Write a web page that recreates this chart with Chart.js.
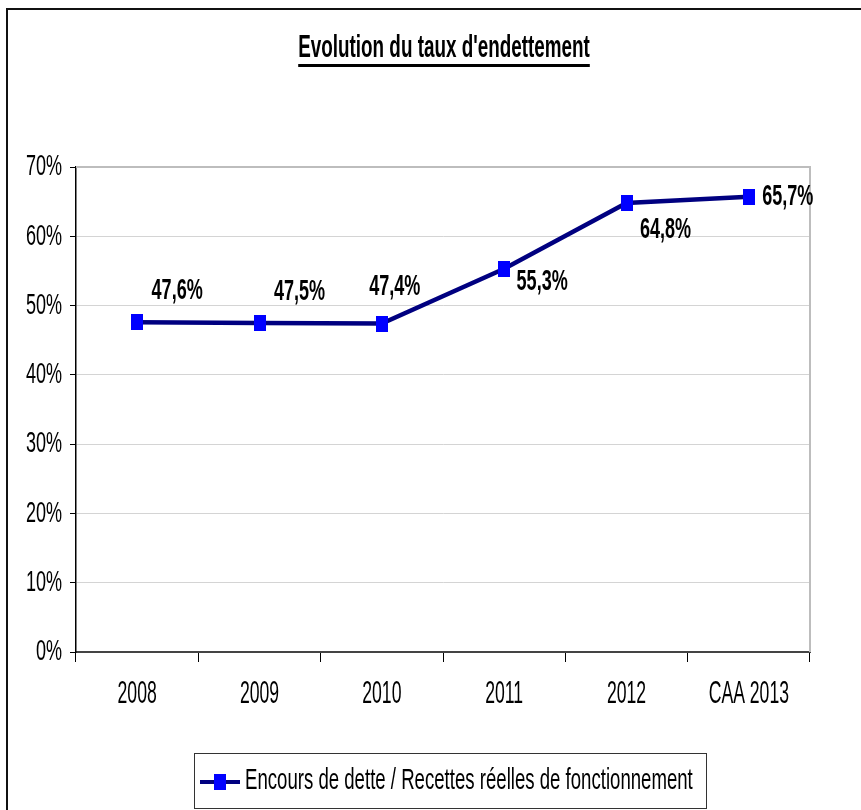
<!DOCTYPE html>
<html>
<head>
<meta charset="utf-8">
<script src="https://cdn.jsdelivr.net/npm/chart.js@4.4.0/dist/chart.umd.min.js"></script>
<style>
    html, body { margin: 0; padding: 0; background: #fff; overflow: hidden; }
    #frame { position: absolute; left: 6px; top: 8px; width: 900px; height: 900px; border: 2px solid #111; box-sizing: border-box; }
    #chart { position: absolute; left: 0; top: 0; }
</style>
</head>
<body>
<div id="frame"></div>
<canvas id="chart" width="861" height="810"></canvas>
<script>
const chartTitle = "Evolution du taux d'endettement";
const seriesName = 'Encours de dette / Recettes réelles de fonctionnement';
const categories = ['2008', '2009', '2010', '2011', '2012', 'CAA 2013'];
const debtRatio = [47.6, 47.5, 47.4, 55.3, 64.8, 65.7];
const valueLabels = ['47,6%', '47,5%', '47,4%', '55,3%', '64,8%', '65,7%'];
const yTickValues = [0, 10, 20, 30, 40, 50, 60, 70];

// where each value label sits relative to its point (px)
const labelOffsets = [[40, -31], [40, -31], [13, -36], [38, 13], [39, 27], [39, 0]];

const FONT = '"Liberation Sans", Arial, sans-serif';
const LINE_COLOR = '#000080';
const MARK_COLOR = '#0000ff';

// tall, narrow text like the original (Arial Narrow, stretched)
function drawText(ctx, text, x, y, size, bold, align, sy) {
    ctx.save();
    ctx.translate(x, y);
    ctx.scale(0.82, sy);
    ctx.font = (bold ? 'bold ' : '') + size + 'px ' + FONT;
    ctx.textAlign = align;
    ctx.textBaseline = 'middle';
    ctx.fillStyle = '#000';
    ctx.fillText(text, 0, 0);
    ctx.restore();
    return ctx;
}

function makeMarker() {
    let c = document.createElement('canvas');
    c.width = 12;
    c.height = 16;
    let g = c.getContext('2d');
    g.fillStyle = MARK_COLOR;
    g.fillRect(0, 0, 12, 16);
    return c;
}
const marker = makeMarker();

const decorations = {
    id: 'decorations',
    beforeDatasetsDraw(chart) {
        let ctx = chart.ctx;
        let a = chart.chartArea;
        ctx.save();
        ctx.strokeStyle = '#bdbdbd';
        ctx.lineWidth = 2;
        ctx.beginPath();
        ctx.moveTo(a.left, a.top);
        ctx.lineTo(a.right, a.top);
        ctx.lineTo(a.right, a.bottom);
        ctx.stroke();
        ctx.restore();
    },
    afterDraw(chart) {
        let ctx = chart.ctx;
        let x = chart.scales.x;
        let y = chart.scales.y;

        // title
        drawText(ctx, chartTitle, 444, 48, 23, true, 'center', 1.4);
        ctx.save();
        ctx.font = 'bold 23px ' + FONT;
        let tw = ctx.measureText(chartTitle).width * 0.82;
        ctx.fillStyle = '#000';
        ctx.fillRect(444 - tw / 2, 64, tw, 3);
        ctx.restore();

        // axis labels
        yTickValues.forEach(v => drawText(ctx, v + '%', 62, y.getPixelForValue(v), 22, false, 'right', 1.36));
        categories.forEach((c, i) => drawText(ctx, c, x.getPixelForValue(i), 694, 21.5, false, 'center', 1.45));

        // value labels
        let meta = chart.getDatasetMeta(0);
        meta.data.forEach((pt, i) => {
            let off = labelOffsets[i];
            drawText(ctx, valueLabels[i], pt.x + off[0], pt.y + off[1], 22, true, 'center', 1.3);
        });

        // legend
        ctx.save();
        ctx.strokeStyle = '#333';
        ctx.lineWidth = 1;
        ctx.strokeRect(194.5, 753.5, 512, 55);
        ctx.strokeStyle = LINE_COLOR;
        ctx.lineWidth = 4;
        ctx.beginPath();
        ctx.moveTo(200, 782);
        ctx.lineTo(240, 782);
        ctx.stroke();
        ctx.drawImage(marker, 214, 774);
        ctx.restore();
        drawText(ctx, seriesName, 245, 781, 22.7, false, 'left', 1.33);
    }
};

const config = {
    type: 'line',
    data: {
        labels: categories,
        datasets: [
            {
                label: seriesName,
                data: debtRatio,
                borderColor: LINE_COLOR,
                backgroundColor: MARK_COLOR,
                borderWidth: 4.5,
                tension: 0,
                pointStyle: marker,
                pointRadius: 8,
                pointHoverRadius: 8
            }
        ]
    },
    options: {
        responsive: false,
        animation: false,
        events: [],
        layout: {
            padding: { top: 167, left: 0, right: 51, bottom: 98 }
        },
        scales: {
            x: {
                offset: true,
                afterFit: s => { s.height = 60; },
                grid: {
                    display: true,
                    offset: true,
                    drawOnChartArea: false,
                    drawTicks: true,
                    tickLength: 10,
                    tickColor: '#000'
                },
                border: { display: true, color: '#444', width: 2 },
                ticks: { color: 'rgba(0,0,0,0)', font: { size: 20 } }
            },
            y: {
                min: 0,
                max: 70,
                afterFit: s => { s.width = 76; },
                grid: {
                    color: '#d4d4d4',
                    tickColor: '#000',
                    tickLength: 6
                },
                border: { display: true, color: '#000', width: 1.5 },
                ticks: {
                    stepSize: 10,
                    color: 'rgba(0,0,0,0)',
                    font: { size: 20 },
                    callback: v => v + '%'
                }
            }
        },
        plugins: {
            legend: { display: false },
            tooltip: { enabled: false }
        }
    },
    plugins: [decorations]
};

new Chart(document.getElementById('chart').getContext('2d'), config);
</script>
</body>
</html>
